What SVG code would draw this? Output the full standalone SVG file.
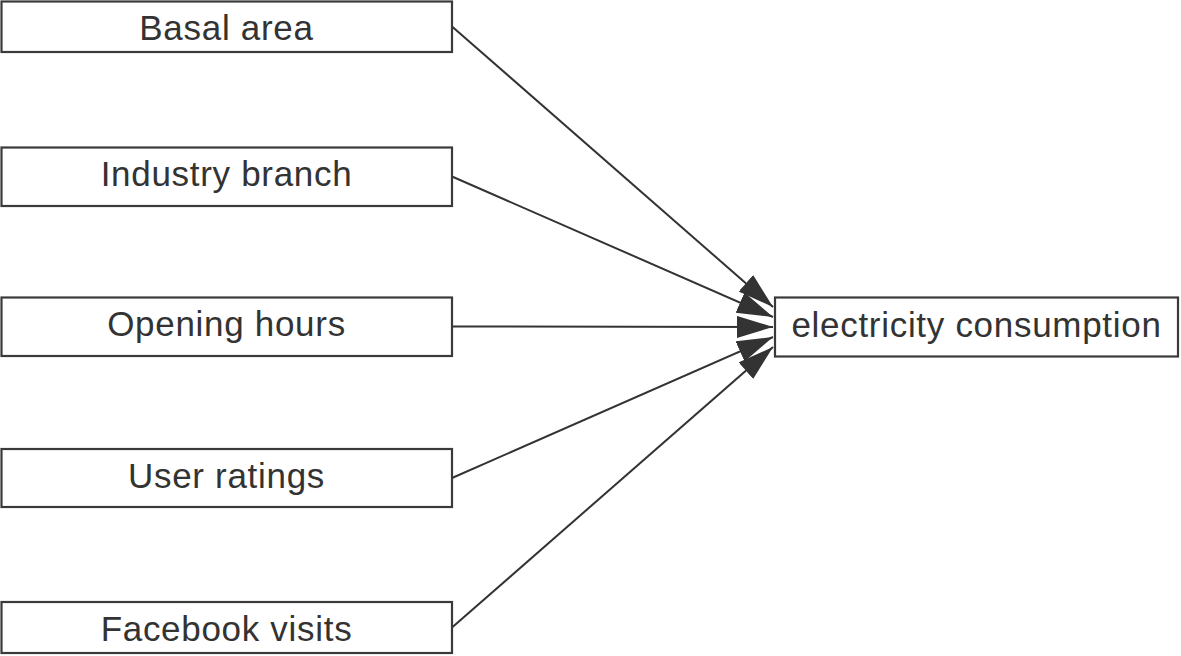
<svg xmlns="http://www.w3.org/2000/svg" width="1181" height="656" viewBox="0 0 1181 656">
<defs>
<style>
.box{fill:#fff;stroke:#3a3a3a;stroke-width:2.2}
.lbl{font-family:"Liberation Sans",Arial,sans-serif;font-size:35px;letter-spacing:0.7px;fill:#333;text-anchor:middle}
.edge{stroke:#333;stroke-width:2;fill:none;marker-end:url(#ah)}
</style>
<marker id="ah" markerUnits="userSpaceOnUse" markerWidth="38" markerHeight="24" refX="36" refY="11" orient="auto" viewBox="0 0 38 24">
<path d="M0,0 L36,11 L0,22 Z" fill="#333"/>
</marker>
</defs>
<rect width="1181" height="656" fill="#fff"/>
<g id="connectors">
<line class="edge" x1="452" y1="26.5" x2="773" y2="307"/>
<line class="edge" x1="452" y1="176.5" x2="773" y2="317"/>
<line class="edge" x1="452" y1="326.5" x2="773" y2="327"/>
<line class="edge" x1="452" y1="478" x2="773" y2="337"/>
<line class="edge" x1="452" y1="627.5" x2="773" y2="347"/>
</g>
<g id="basal-area">
<rect class="box" x="1.5" y="1.5" width="450.5" height="50.5"/>
<text class="lbl" x="226.5" y="40">Basal area</text>
</g>
<g id="industry-branch">
<rect class="box" x="1.5" y="147.5" width="450.5" height="58.5"/>
<text class="lbl" x="226.5" y="186">Industry branch</text>
</g>
<g id="opening-hours">
<rect class="box" x="1.5" y="297.5" width="450.5" height="58.5"/>
<text class="lbl" x="226.5" y="336">Opening hours</text>
</g>
<g id="user-ratings">
<rect class="box" x="1.5" y="449" width="450.5" height="58"/>
<text class="lbl" x="226.5" y="487.5">User ratings</text>
</g>
<g id="facebook-visits">
<rect class="box" x="1.5" y="602" width="450.5" height="51"/>
<text class="lbl" x="226.5" y="641">Facebook visits</text>
</g>
<g id="electricity-consumption">
<rect class="box" x="775" y="297.5" width="403" height="59"/>
<text class="lbl" x="976.5" y="336.5">electricity consumption</text>
</g>
</svg>
